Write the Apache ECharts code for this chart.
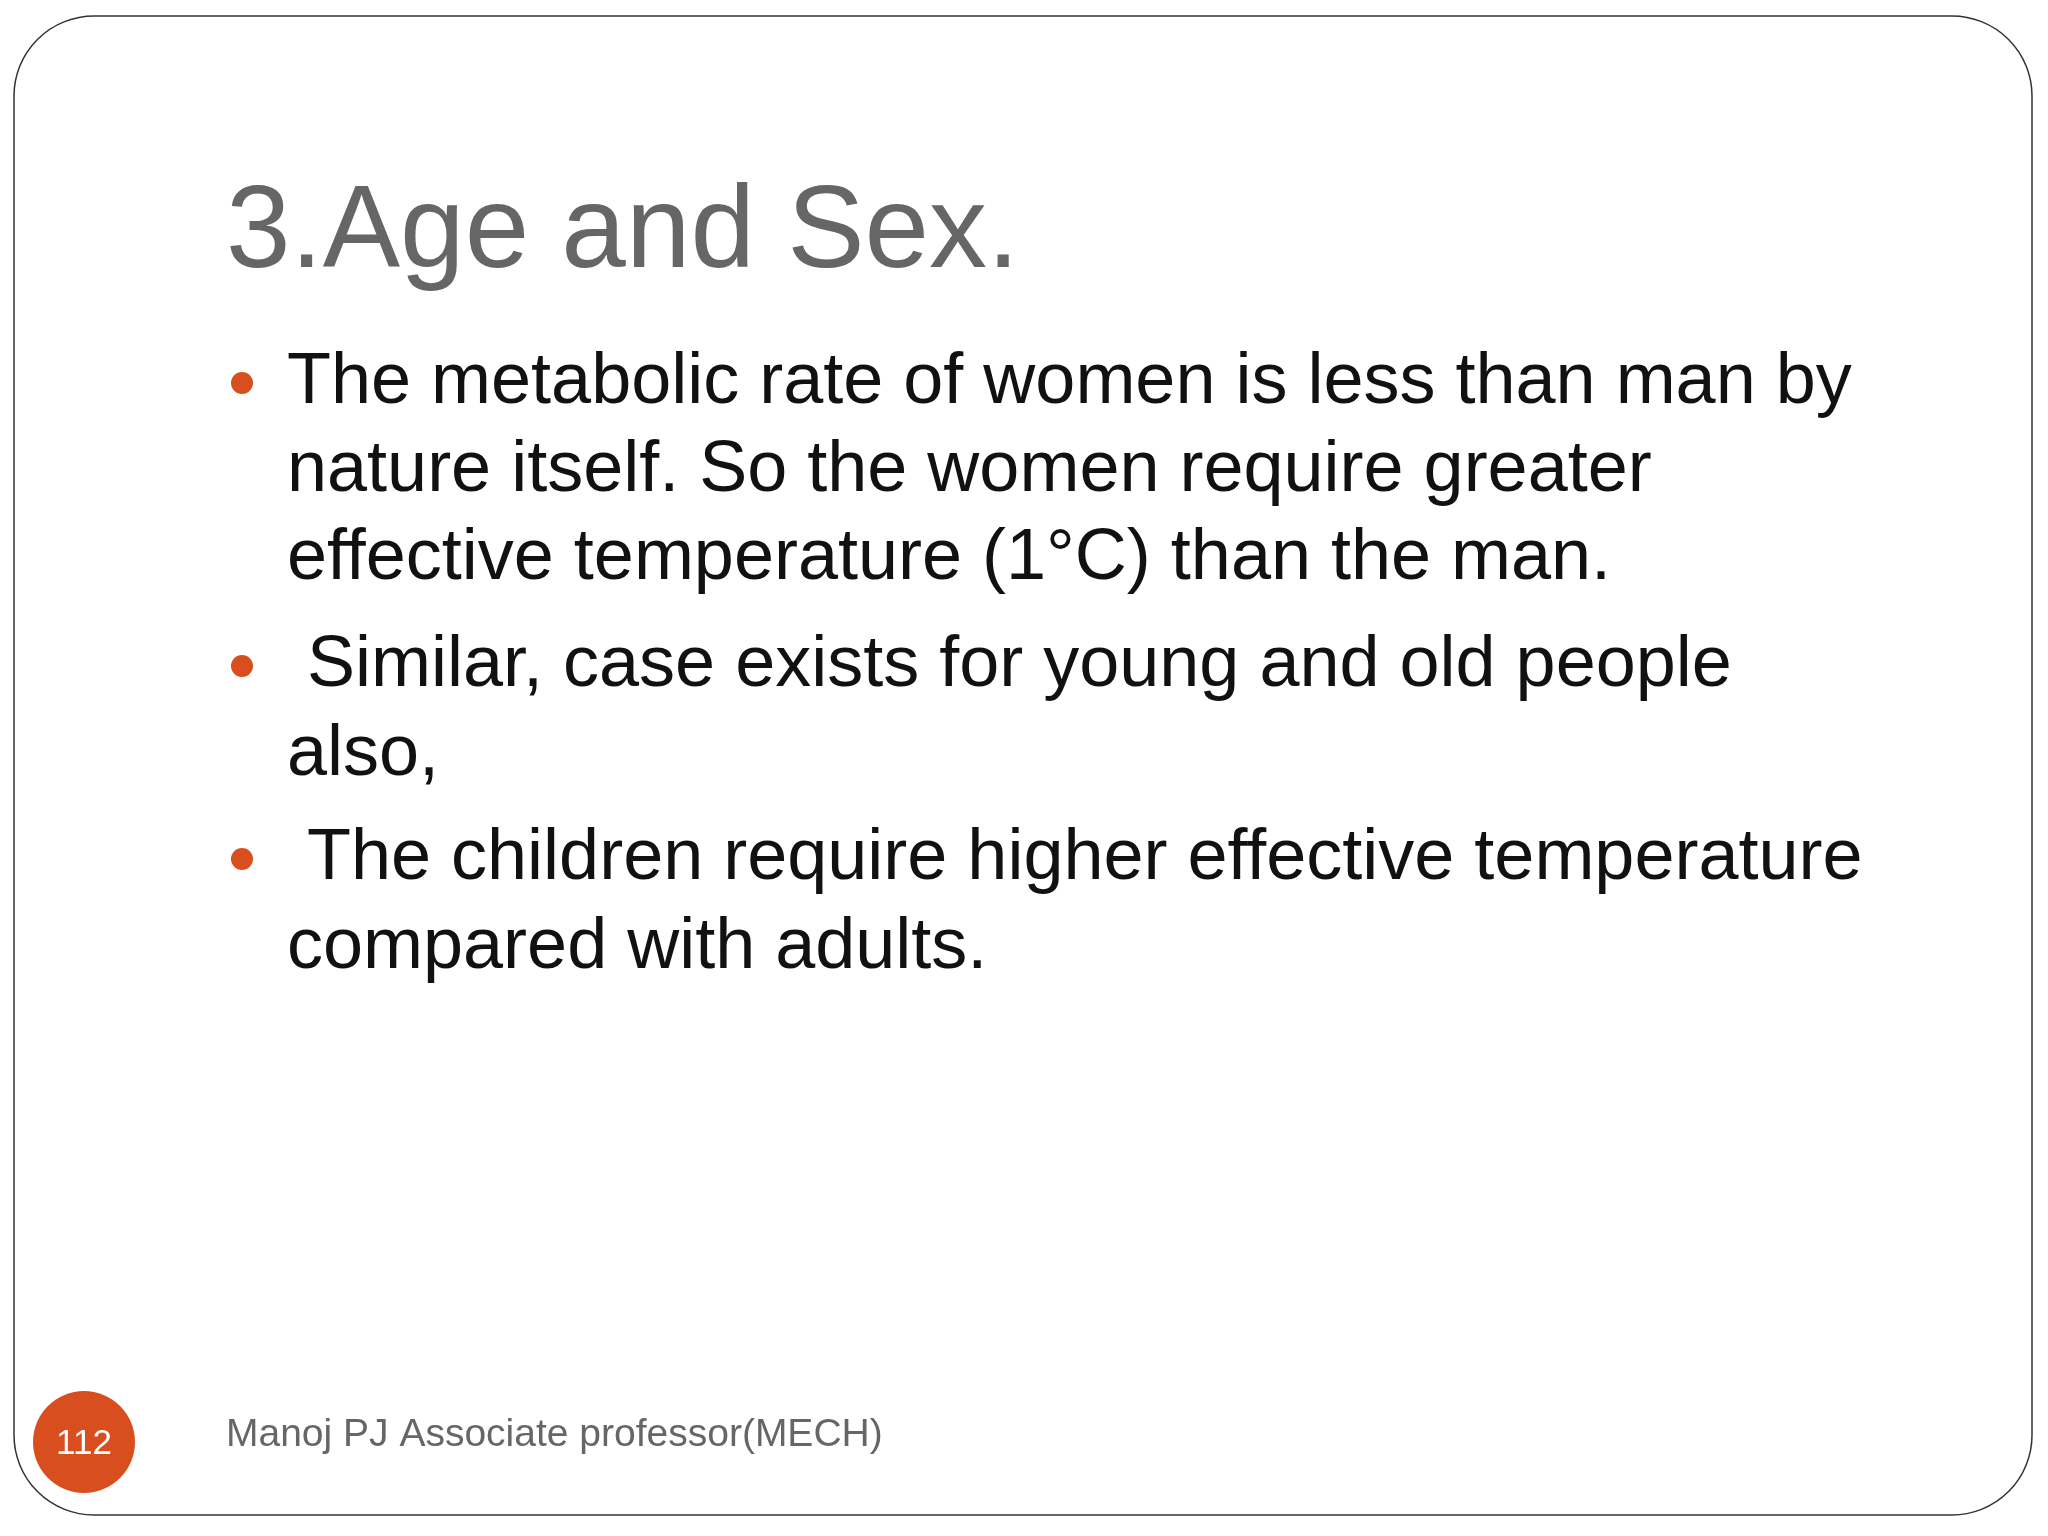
<!DOCTYPE html>
<html>
<head>
<meta charset="UTF-8">
<title>3.Age and Sex.</title>
<script src="https://cdn.jsdelivr.net/npm/echarts@6/dist/echarts.min.js"></script>
<style>
  html, body { margin: 0; padding: 0; background: #fff; }
  #main { width: 2048px; height: 1536px; }
</style>
</head>
<body>
<div id="main"></div>
<script>
// slide content
var title = '3.Age and Sex.';
var bulletLines = [
  ['The metabolic rate of women is less than man by', 'nature itself. So the women require greater', 'effective temperature (1°C) than the man.'],
  [' Similar, case exists for young and old people', 'also,'],
  [' The children require higher effective temperature', 'compared with adults.']
];
var lineY = [[383, 471, 559], [666, 755], [859, 948]];
var pageNumber = '112';
var footer = 'Manoj PJ Associate professor(MECH)';

var chart = echarts.init(document.getElementById('main'));
var els = [];

els.push({
  type: 'rect', shape: { x: 14, y: 16, width: 2018, height: 1499, r: 80 },
  style: { fill: '#fff', stroke: '#333', lineWidth: 1.5 }
});
els.push({
  type: 'text', x: 226, y: 235,
  style: { text: title, fontSize: 116, fontFamily: 'Liberation Sans', fill: '#666', verticalAlign: 'middle' }
});
bulletLines.forEach(function (lines, i) {
  els.push({
    type: 'circle', shape: { cx: 242, cy: lineY[i][0], r: 11 },
    style: { fill: '#d84e1f' }
  });
  lines.forEach(function (t, j) {
    els.push({
      type: 'text', x: 287, y: lineY[i][j],
      style: { text: t, fontSize: 72, fontFamily: 'Liberation Sans', fill: '#111', verticalAlign: 'middle' }
    });
  });
});
els.push({
  type: 'circle', shape: { cx: 84, cy: 1442, r: 51 },
  style: { fill: '#d84e1f' }
});
els.push({
  type: 'text', x: 84, y: 1444,
  style: { text: pageNumber, fontSize: 35, fontFamily: 'Liberation Sans', fill: '#fff', align: 'center', verticalAlign: 'middle' }
});
els.push({
  type: 'text', x: 226, y: 1435,
  style: { text: footer, fontSize: 39, fontFamily: 'Liberation Sans', fill: '#666', verticalAlign: 'middle' }
});

chart.setOption({ backgroundColor: '#fff', graphic: { elements: els } });
</script>
</body>
</html>
